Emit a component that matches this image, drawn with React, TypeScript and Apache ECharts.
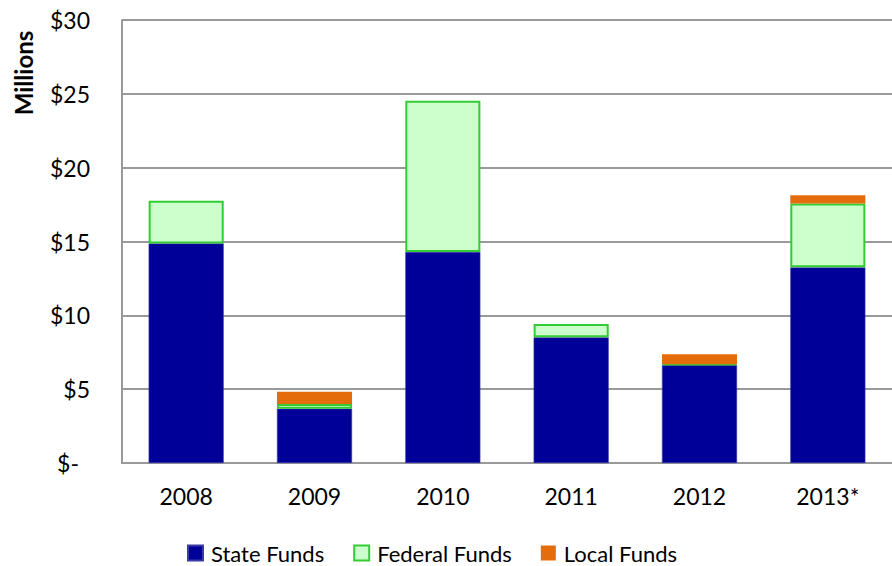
import React, { useEffect, useRef } from "react";
import * as echarts from "echarts";

const categories = ["2008", "2009", "2010", "2011", "2012", "2013*"];
const stateFunds = [14.87, 3.68, 14.29, 8.51, 6.64, 13.25];
const federalFunds = [2.89, 0.32, 10.24, 0.9, 0.05, 4.33];
const localFunds = [0, 0.83, 0, 0, 0.67, 0.56];
const yTicks = [0, 5, 10, 15, 20, 25, 30];

const FONT = "Lato";

export default function App() {
  const ref = useRef<HTMLDivElement>(null);
  useEffect(() => {
    if (!ref.current) return;
    const chart = echarts.init(ref.current, null, { renderer: "svg" });
    chart.setOption({
      animation: false,
      backgroundColor: "#ffffff",
      textStyle: { fontFamily: FONT },
      grid: { left: 122, right: 0, top: 20, bottom: 103, containLabel: false },
      graphic: [
        {
          type: "text",
          x: 23,
          y: 73,
          rotation: Math.PI / 2,
          style: {
            text: "Millions",
            font: `bold 24px ${FONT}`,
            fill: "#000",
            textAlign: "center",
            textVerticalAlign: "middle",
          },
        },
      ],
      legend: {
        top: 541,
        left: 187,
        padding: 0,
        itemWidth: 15,
        itemHeight: 15,
        itemGap: 29,
        icon: "rect",
        textStyle: {
          fontSize: 22,
          lineHeight: 24,
          color: "#000",
          fontFamily: FONT,
          padding: [0, 0, 0, 3],
        },
        data: ["State Funds", "Federal Funds", "Local Funds"],
      },
      xAxis: {
        type: "category",
        data: categories,
        axisLine: { show: true, lineStyle: { color: "#999999", width: 2 } },
        axisTick: { show: false },
        axisLabel: { fontSize: 23, color: "#000", margin: 21, fontFamily: FONT },
      },
      yAxis: {
        type: "value",
        min: yTicks[0],
        max: yTicks[yTicks.length - 1],
        interval: 5,
        axisLine: { show: true, lineStyle: { color: "#999999", width: 2 } },
        axisTick: { show: false },
        splitLine: { show: true, lineStyle: { color: "#999999", width: 2 } },
        axisLabel: {
          fontSize: 23,
          color: "#000",
          margin: 32,
          fontFamily: FONT,
          formatter: (v: number) => (v === 0 ? "{z|$-}" : `$${v}`),
          rich: { z: { fontSize: 23, color: "#000", fontFamily: FONT, padding: [0, 11, 0, 0] } },
        },
      },
      series: [
        {
          name: "State Funds",
          type: "bar",
          stack: "total",
          barCategoryGap: "41.5%",
          data: stateFunds,
          itemStyle: { color: "#000099", borderColor: "#3a3aa8", borderWidth: 0.6 },
        },
        {
          name: "Federal Funds",
          type: "bar",
          stack: "total",
          data: federalFunds,
          itemStyle: { color: "#CCFFCC", borderColor: "#33CC33", borderWidth: 2 },
        },
        {
          name: "Local Funds",
          type: "bar",
          stack: "total",
          data: localFunds,
          itemStyle: { color: "#E46C0A" },
        },
      ],
    });
    return () => chart.dispose();
  }, []);
  return (
    <div
      ref={ref}
      style={{ position: "fixed", left: 0, top: 0, width: 892, height: 566 }}
    />
  );
}
